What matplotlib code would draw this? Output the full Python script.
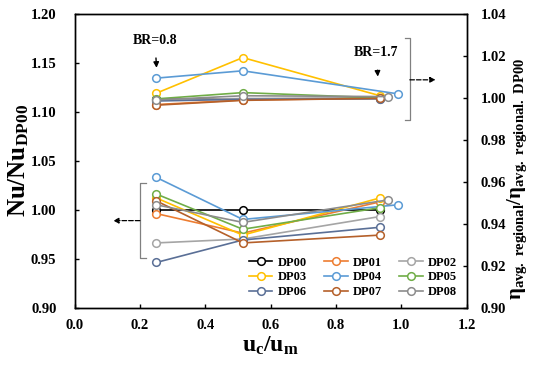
import matplotlib
matplotlib.use("Agg")
import matplotlib.pyplot as plt
from matplotlib.lines import Line2D

plt.rcParams["font.family"] = ["Liberation Serif", "DejaVu Serif"]
plt.rcParams["font.weight"] = "bold"
plt.rcParams["mathtext.fontset"] = "custom"
plt.rcParams["mathtext.rm"] = "Liberation Serif:bold"
plt.rcParams["mathtext.it"] = "Liberation Serif:bold"
plt.rcParams["mathtext.bf"] = "Liberation Serif:bold"
plt.rcParams["mathtext.default"] = "bf"

# ---- data ----
series = ["DP00", "DP01", "DP02", "DP03", "DP04", "DP05", "DP06", "DP07", "DP08"]
colors = ["#000000", "#ED7D31", "#A5A5A5", "#FFC000", "#5B9BD5",
          "#70AD47", "#5A6F96", "#B5602A", "#8C8C8C"]

# velocity ratio u_c/u_m for each series (three blockage ratios)
x_vals = {
    "DP00": [0.25, 0.515, 0.935],
    "DP01": [0.25, 0.515, 0.935],
    "DP02": [0.25, 0.515, 0.935],
    "DP03": [0.25, 0.515, 0.935],
    "DP04": [0.25, 0.515, 0.99],
    "DP05": [0.25, 0.515, 0.935],
    "DP06": [0.25, 0.515, 0.935],
    "DP07": [0.25, 0.515, 0.935],
    "DP08": [0.25, 0.515, 0.96],
}

# Nu / Nu_DP00 (left axis, lower group)
nu_ratio = {
    "DP00": [1.000, 1.000, 1.000],
    "DP01": [0.996, 0.976, 1.008],
    "DP02": [0.966, 0.970, 0.993],
    "DP03": [1.012, 0.974, 1.012],
    "DP04": [1.033, 0.990, 1.005],
    "DP05": [1.016, 0.980, 1.002],
    "DP06": [0.946, 0.969, 0.982],
    "DP07": [1.009, 0.966, 0.974],
    "DP08": [1.005, 0.987, 1.010],
}

# eta / eta_DP00 (right axis, upper group)
eta_ratio = {
    "DP00": [0.9993, 0.9995, 0.9998],
    "DP01": [0.9968, 0.9990, 0.9998],
    "DP02": [0.9990, 0.9997, 0.9996],
    "DP03": [1.0022, 1.0192, 1.0010],
    "DP04": [1.0094, 1.0129, 1.0019],
    "DP05": [0.9995, 1.0025, 1.0000],
    "DP06": [0.9985, 0.9993, 0.9996],
    "DP07": [0.9965, 0.9988, 0.9998],
    "DP08": [0.9990, 1.0010, 1.0006],
}

x_ticks = [0.0, 0.2, 0.4, 0.6, 0.8, 1.0, 1.2]
left_ticks = [0.90, 0.95, 1.00, 1.05, 1.10, 1.15, 1.20]
right_ticks = [0.90, 0.92, 0.94, 0.96, 0.98, 1.00, 1.02, 1.04]

fig = plt.figure(figsize=(5.5, 3.68), dpi=100)
ax = fig.add_axes([0.1355, 0.1644, 0.713, 0.7976])
ax2 = ax.twinx()

line_kw = dict(marker="o", markersize=5.5, markerfacecolor="white",
               markeredgewidth=1.1, linewidth=1.2)

for name, col in zip(series, colors):
    ax.plot(x_vals[name], nu_ratio[name], color=col, **line_kw)
    ax2.plot(x_vals[name], eta_ratio[name], color=col, **line_kw)

ax.set_xlim(0.0, 1.2)
ax.set_ylim(0.90, 1.20)
ax2.set_ylim(0.90, 1.04)
ax.set_xticks(x_ticks)
ax.set_xticklabels([f"{v:.1f}" for v in x_ticks])
ax.set_yticks(left_ticks)
ax.set_yticklabels([f"{v:.2f}" for v in left_ticks])
ax2.set_yticks(right_ticks)
ax2.set_yticklabels([f"{v:.2f}" for v in right_ticks])

for a in (ax, ax2):
    a.tick_params(direction="in", length=3, width=1, labelsize=10.5)
    for sp in a.spines.values():
        sp.set_linewidth(1.0)
ax.tick_params(axis="y", pad=13)
ax.tick_params(axis="x", pad=8)
ax2.tick_params(axis="y", pad=10)

ax.set_xlabel(r"$u_c/u_m$", fontsize=17, labelpad=2)
ax.set_ylabel(r"$Nu/Nu_{DP00}$", fontsize=18)
ax.yaxis.set_label_coords(-0.11, 0.5)
ax2.set_ylabel(r"$\eta_{avg.\ regional}/\eta_{avg.\ regional.\ DP00}$",
               fontsize=15)
ax2.yaxis.set_label_coords(1.1, 0.44)

# annotations: BR labels and group brackets
ax.annotate("BR=0.8", xy=(0.251, 1.145), xytext=(0.246, 1.173),
            ha="center", va="center", fontsize=10,
            arrowprops=dict(arrowstyle="-|>", color="black", lw=1,
                            mutation_scale=8, shrinkA=6, shrinkB=0))
ax.annotate("BR=1.7", xy=(0.928, 1.136), xytext=(0.924, 1.1605),
            ha="center", va="center", fontsize=10,
            arrowprops=dict(arrowstyle="-|>", color="black", lw=1,
                            mutation_scale=8, shrinkA=6, shrinkB=0))

bk = dict(color="#808080", linewidth=0.9, clip_on=False)
ax.plot([1.011, 1.026, 1.026, 1.011], [1.1755, 1.1755, 1.0918, 1.0918], **bk)
ax.plot([0.219, 0.200, 0.200, 0.219], [1.0272, 1.0272, 0.9507, 0.9507], **bk)
ax.annotate("", xy=(1.105, 1.1327), xytext=(1.026, 1.1327), annotation_clip=False,
            arrowprops=dict(arrowstyle="-|>", color="black", lw=0.9,
                            linestyle="--", mutation_scale=8, shrinkA=0, shrinkB=0))
ax.annotate("", xy=(0.118, 0.9888), xytext=(0.200, 0.9888), annotation_clip=False,
            arrowprops=dict(arrowstyle="-|>", color="black", lw=0.9,
                            linestyle="--", mutation_scale=8, shrinkA=0, shrinkB=0))

# legend: three columns, row order DP00 DP01 DP02 / DP03 ...
order = [0, 3, 6, 1, 4, 7, 2, 5, 8]
handles = [Line2D([], [], color=colors[i], **line_kw) for i in order]
labels = [series[i] for i in order]
ax.legend(handles, labels, ncol=3, frameon=False, fontsize=9,
          loc="lower right", bbox_to_anchor=(1.0, 0.0),
          handlelength=1.9, handletextpad=0.4, columnspacing=1.4,
          labelspacing=0.22, borderaxespad=0.35)

fig.savefig("out.png", dpi=100)
